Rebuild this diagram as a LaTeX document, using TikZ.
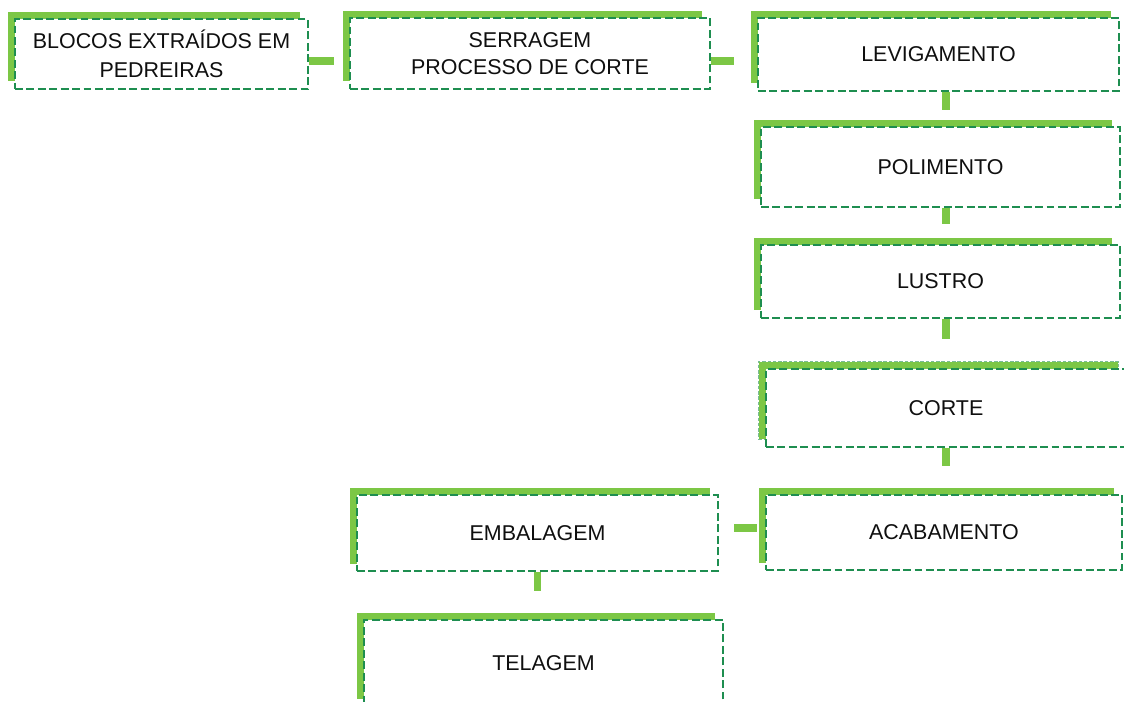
\documentclass[tikz,border=0pt]{standalone}
\usepackage{fontspec}
\setmainfont{Liberation Sans}
\usetikzlibrary{shadows}

\definecolor{leafgreen}{RGB}{124,199,69}
\definecolor{dashgreen}{RGB}{30,142,80}
\definecolor{inkgray}{RGB}{15,15,15}

\tikzset{
  stage/.style={draw=dashgreen, line width=1.2pt, dash pattern=on 4.5pt off 2pt,
    fill=white, minimum width=7.2cm, align=center, text=inkgray,
    font=\fontsize{12.2}{15.5}\selectfont,
    general shadow={fill=leafgreen, shadow xshift=-0.15cm, shadow yshift=0.15cm, #1}},
  stage/.default={},
  link/.style={draw=leafgreen, line width=0.15cm}
}

\begin{document}
\begin{tikzpicture}[x=0.02cm,y=-0.02cm]
\clip (0,0) rectangle (1124,702);

% top row
\node[stage, minimum width=5.86cm, minimum height=1.40cm] (blocos) at (161.5,54) {BLOCOS EXTRAÍDOS EM\\[1pt]PEDREIRAS};
\node[stage, minimum height=1.42cm] (serragem) at (530,53.5) {SERRAGEM\\PROCESSO DE CORTE};
\node[stage, minimum width=7.22cm, minimum height=1.46cm] (levig) at (938.5,54.5) {LEVIGAMENTO};

% right column
\node[stage, minimum width=7.18cm, minimum height=1.60cm] (polim) at (940.5,167) {POLIMENTO};
\node[stage, minimum width=7.18cm, minimum height=1.46cm] (lustro) at (940.5,281.5) {LUSTRO};
\node[stage={draw=dashgreen!60, line width=0.4pt, dash pattern=on 2pt off 1pt}, minimum height=1.56cm] (corte) at (946,408) {CORTE};
\node[stage, minimum width=7.12cm, minimum height=1.50cm] (acab) at (944,532.5) {ACABAMENTO};

% bottom left
\node[stage, minimum width=7.22cm, minimum height=1.52cm] (embal) at (537.5,533) {EMBALAGEM};
\node[stage, minimum width=7.18cm, minimum height=1.72cm] (telag) at (543.5,663) {TELAGEM};

\coordinate (spine) at (946,0);
\draw[link] ([yshift=-0.14cm]blocos.east) -- ++(0.5cm,0);
\draw[link] ([yshift=-0.15cm]serragem.east) -- ++(0.46cm,0);
\draw[link] (levig.south -| spine) -- ++(0,-0.36cm);
\draw[link] (polim.south -| spine) -- ++(0,-0.32cm);
\draw[link] (lustro.south -| spine) -- ++(0,-0.4cm);
\draw[link] (corte.south -| spine) -- ++(0,-0.36cm);
\draw[link] ([xshift=-0.16cm,yshift=0.09cm]acab.west) -- ++(-0.46cm,0);
\draw[link] (embal.south) -- ++(0,-0.38cm);
\end{tikzpicture}
\end{document}
